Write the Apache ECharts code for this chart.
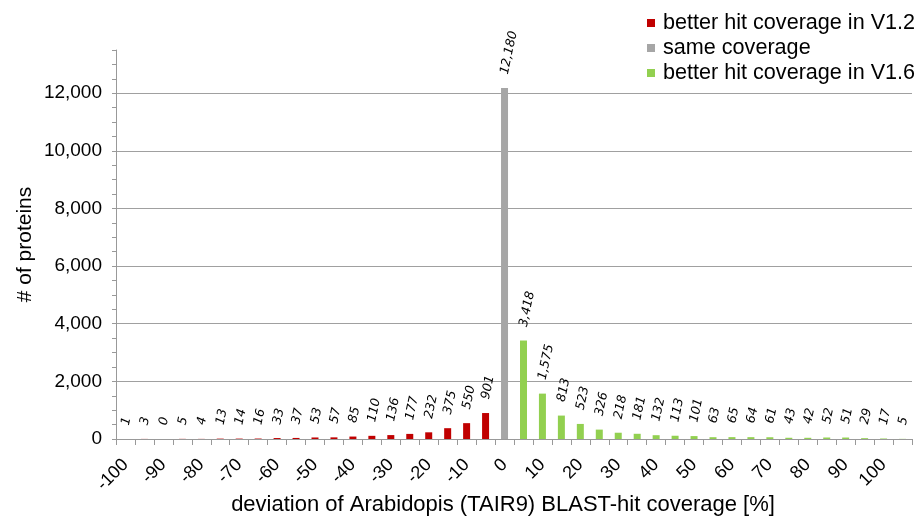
<!DOCTYPE html>
<html>
<head>
<meta charset="utf-8">
<script src="https://cdn.jsdelivr.net/npm/echarts@6/dist/echarts.min.js"></script>
<style>html,body{margin:0;padding:0;background:#fff}#c{width:919px;height:519px}</style>
</head>
<body>
<div id="c"></div>
<script>
const categories = ['-100','-95','-90','-85','-80','-75','-70','-65','-60','-55','-50','-45','-40','-35','-30','-25','-20','-15','-10','-5','0','5','10','15','20','25','30','35','40','45','50','55','60','65','70','75','80','85','90','95','100','105'];
const betterV12 = [1,3,0,5,4,13,14,16,33,37,53,57,85,110,136,177,232,375,550,901];
const sameCoverage = [12180];
const betterV16 = [3418,1575,813,523,326,218,181,132,113,101,63,65,64,61,43,42,52,51,29,17,5];
const yTickValues = [0,2000,4000,6000,8000,10000,12000];

const n = categories.length;
const redData = [], grayData = [], greenData = [];
for (let i = 0; i < n; i++) {
  redData.push(i < betterV12.length ? betterV12[i] : null);
  const gi = i - betterV12.length;
  grayData.push(gi >= 0 && gi < sameCoverage.length ? sameCoverage[gi] : null);
  const ri = i - betterV12.length - sameCoverage.length;
  greenData.push(ri >= 0 && ri < betterV16.length ? betterV16[ri] : null);
}

const fmt = v => Number(v).toLocaleString('en-US');
const barLabel = {
  show: true, position: 'top', distance: 14, rotate: 78,
  align: 'left', verticalAlign: 'middle',
  fontFamily: 'DejaVu Sans', fontStyle: 'italic', fontSize: 12.5, color: '#000',
  formatter: p => fmt(p.value)
};

const chart = echarts.init(document.getElementById('c'), null, {renderer: 'canvas'});
chart.setOption({
  animation: false,
  backgroundColor: '#fff',
  textStyle: {fontFamily: 'Liberation Sans'},
  grid: {left: 116, right: 7, top: 50, bottom: 80, outerBoundsMode: 'none', containLabel: false},
  legend: {
    orient: 'vertical', left: 642, top: 7,
    itemWidth: 8, itemHeight: 8, itemGap: 3, icon: 'rect',
    textStyle: {fontSize: 21.6, color: '#000', lineHeight: 22, padding: [0,0,0,3], fontFamily: 'Liberation Sans'},
    data: ['better hit coverage in V1.2','same coverage','better hit coverage in V1.6']
  },
  xAxis: {
    type: 'category', data: categories, boundaryGap: true,
    name: 'deviation of Arabidopis (TAIR9) BLAST-hit coverage [%]',
    nameLocation: 'middle', nameGap: 55, nameMoveOverlap: false,
    nameTextStyle: {fontSize: 22, color: '#000', padding: [0, 22, 0, 0]},
    axisLine: {lineStyle: {color: '#999', width: 1}},
    axisTick: {show: true, interval: 0, length: 6, lineStyle: {color: '#999'}},
    axisLabel: {interval: 1, rotate: 45, margin: 23, fontSize: 18, color: '#000'},
    splitLine: {show: false}
  },
  yAxis: [{
    type: 'value', min: 0, max: 13500, interval: 500,
    name: '# of proteins', nameLocation: 'middle', nameGap: 80, nameMoveOverlap: false,
    nameTextStyle: {fontSize: 21, color: '#000'},
    axisLine: {show: true, lineStyle: {color: '#999'}},
    axisTick: {show: true, length: 4, lineStyle: {color: '#999'}},
    axisLabel: {fontSize: 19, color: '#000', margin: 14,
      formatter: v => yTickValues.indexOf(v) >= 0 ? fmt(v) : ''},
    splitLine: {show: false}
  }, {
    type: 'value', min: 0, max: 13500, interval: 2000, position: 'left',
    axisLine: {show: false}, axisTick: {show: false}, axisLabel: {show: false},
    splitLine: {show: true, showMaxLine: false, lineStyle: {color: '#a0a0a0', width: 1}}
  }],
  series: [
    {name: 'better hit coverage in V1.2', type: 'bar', data: redData, barWidth: 7, barGap: '-100%',
     itemStyle: {color: '#c00000'}, label: barLabel},
    {name: 'same coverage', type: 'bar', data: grayData, barWidth: 7, barGap: '-100%',
     itemStyle: {color: '#a6a6a6'}, label: barLabel},
    {name: 'better hit coverage in V1.6', type: 'bar', data: greenData, barWidth: 7, barGap: '-100%',
     itemStyle: {color: '#92d050'}, label: barLabel}
  ]
});
</script>
</body>
</html>
